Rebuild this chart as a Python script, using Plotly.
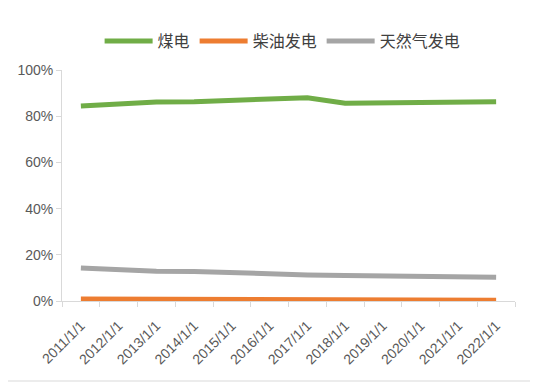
import plotly.graph_objects as go

years = [f"{y}/1/1" for y in range(2011, 2023)]
coal = [84.4, 85.5, 86.2, 86.3, 87.0, 87.7, 88.0, 85.6, 85.9, 86.1, 86.2, 86.3]
diesel = [0.9, 0.8, 0.7, 0.7, 0.6, 0.5, 0.5, 0.4, 0.3, 0.3, 0.3, 0.3]
gas = [14.3, 13.4, 12.9, 12.8, 12.2, 11.6, 11.3, 11.0, 10.7, 10.6, 10.4, 10.3]

names = ["煤电", "柴油发电", "天然气发电"]
colors = ["#70ad47", "#ed7d31", "#a5a5a5"]

fig = go.Figure()
for name, vals, c in zip(names, [coal, diesel, gas], colors):
    fig.add_trace(go.Scatter(x=years, y=[v / 100 for v in vals], name=name, mode="lines",
                             line=dict(color=c, width=5)))

fig.update_layout(
    width=530, height=376,
    margin=dict(l=54, r=23, t=62, b=83, autoexpand=False),
    paper_bgcolor="white", plot_bgcolor="white",
    font=dict(family="Noto Sans CJK SC, Liberation Sans", color="#595959"),
    legend=dict(orientation="h", x=0.487, xanchor="center", y=1.125, yanchor="middle",
                font=dict(size=16, color="#404040"), itemwidth=48),
    showlegend=True,
)
fig.update_xaxes(type="category", range=[-0.5, 11.5], showline=True, linecolor="#d9d9d9", linewidth=1,
                 ticks="outside", tickson="boundaries", ticklen=5, tickcolor="#d9d9d9",
                 tickangle=-45, tickfont=dict(size=14, family="Liberation Sans", color="#595959"),
                 ticklabelstandoff=10, showgrid=False, automargin=False)
fig.update_yaxes(range=[0, 1], tickformat=".0%", dtick=0.2, showline=True, linecolor="#d9d9d9",
                 linewidth=1, ticks="outside", ticklen=5, tickcolor="#d9d9d9",
                 tickfont=dict(size=14, family="Liberation Sans", color="#595959"),
                 showgrid=False, zeroline=False, automargin=False)
fig.add_shape(type="line", xref="paper", yref="paper", x0=-62/453, x1=1 + 23/453,
              y0=-80/231, y1=-80/231, line=dict(color="#d9d9d9", width=1))

fig.write_html("out.html")
